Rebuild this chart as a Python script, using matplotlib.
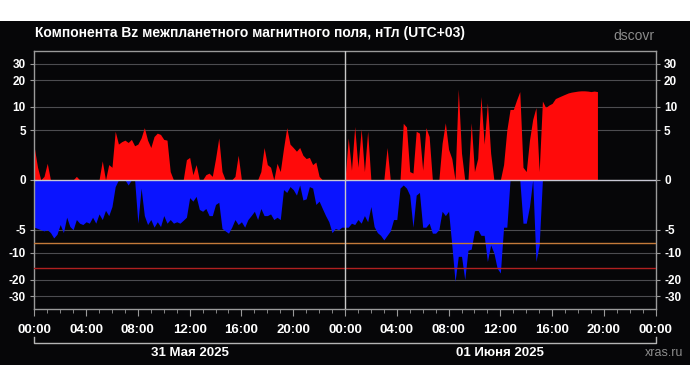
import numpy as np
import matplotlib
matplotlib.use('Agg')
import matplotlib.pyplot as plt
from matplotlib.patches import Rectangle
from matplotlib.transforms import blended_transform_factory

plt.rcParams['font.family'] = ['Liberation Sans', 'DejaVu Sans']

nan = np.nan

# Bz in nT, 15-minute steps from 31 May 00:00 (UTC+03)
# upper (positive) and lower (negative) envelope, one row per hour
bz_pos_day1 = [
    2.6, 0.8, 0, 0.2,   1.1, 0, 0, 0,       0, 0, 0, 0,         0, 0.2, 0, 0,
    0, 0, 0, 0,         0, 1.3, 0, 1.0,     0.8, 4.8, 3.0, 3.3, 3.5, 3.2, 3.6, 2.8,
    3.0, 3.8, 5.4, 3.5, 2.6, 4.0, 4.5, 4.3, 3.6, 3.5, 0.5, 0,   0, 0, 0, 1.4,
    1.6, 0.3, 1.0, 0,   0, 0.3, 0.4, 0.2,   1.5, 3.8, 0.5, 0,   0, 0, 0.2, 1.8,
    0, 0, 0, 0,         0, 0, 0.5, 2.6,     1.0, 0.8, 0, 1.1,   0.5, 2.5, 5.4, 3.0,
    2.6, 2.2, 2.6, 1.8, 1.5, 1.6, 1.0, 1.2, 0.2, 0, 0, 0,       0, 0, 0, 0,
]
bz_neg_day1 = [
    -4.6, -4.8, -5.0, -5.2, -5.0, -5.5, -6.5, -5.8, -4.2, -5.5, -3.2, -4.5,
    -5.0, -3.5, -4.0, -4.2, -3.8, -4.0, -3.2, -4.0, -2.8, -3.5, -2.4, -3.0,
    -2.0, -0.4, 0, 0,       0, -0.3, 0, 0,         -4.0, -0.5, -3.0, -4.2,
    -3.5, -4.6, -3.8, -4.5, -3.0, -4.0, -3.5, -4.0, -3.8, -4.0, -3.6, -3.2,
    -1.2, -1.5, -1.1, -2.3, -2.5, -2.2, -3.0, -3.0, -1.8, -1.6, -4.8, -5.2,
    -5.6, -4.6, -3.5, -4.2, -3.8, -4.6, -3.5, -3.0, -2.5, -3.5, -2.2, -3.0,
    -3.0, -2.8, -3.5, -3.2, -3.5, -0.6, -0.8, -0.4, -0.6, -1.0, -0.3, -1.4,
    -1.3, -0.4, -0.5, -1.8, -1.5, -2.2, -3.0, -3.8, -5.5, -4.8, -5.0, -4.6,
]
bz_pos_day2 = [
    0, 3.8, 0.6, 5.6,       0.8, 5.2, 0.5, 4.8,     0, 0, 0, 0,             0, 2.6, 0, 0,
    0, 0, 6.2, 5.5,         0.5, 0.4, 4.8, 4.5,     0.6, 5.4, 4.0, 0,       0, 0, 3.1, 6.3,
    2.4, 1.5, 0, 16.0,      2.0, 0, 0, 6.3,         0.5, 1.5, 13.2, 3.0,    11.2, 2.0, 0, 0,
    0, 1.0, 5.0, 9.3,       9.3, 12.0, 15.0, 0.8,   0.5, 3.5, 7.0, 9.8,     0.5, 11.7, 9.8, 10.5,
    11.0, 12.5, 13.0, 13.5, 14.0, 14.5, 14.8, 15.0, 15.2, 15.3, 15.3, 15.2, 15.0, 15.2, 15.0, nan,
    nan, nan, nan, nan,     nan, nan, nan, nan,     nan, nan, nan, nan,     nan, nan, nan, nan,
]
bz_neg_day2 = [
    -4.6, -4.6, -4.0, -4.2, -3.5, -4.0, -3.0, -3.8, -2.0, -4.5, -5.5, -6.0,
    -6.9, -6.0, -5.2, -3.5, -3.5, -0.5, -0.3, -0.5, -1.0, -4.6, -1.0, -0.8,
    -4.6, -4.6, -4.0, -5.6, -5.6, -5.0, -2.5, -3.0, -2.5, -8.0, -21.0, -11.0,
    -11.0, -20.0, -9.3, -9.0, -5.2, -5.0, -6.0, -6.0, -12.6, -8.0, -10.0, -15.0,
    -17.0, -4.6, -4.6, 0,   0, 0, 0, -4.0,       -4.0, -2.0, 0, -12.6,
    -8.0, 0, 0, 0,          0, 0, 0, 0,          0, 0, 0, 0,
    0, 0, 0, 0,             0, 0, 0, 0,          nan, nan, nan, nan,
    nan, nan, nan, nan,     nan, nan, nan, nan,  nan, nan, nan, nan,
]

x_ticks = list(range(0, 49, 4))
x_tick_labels = ['00:00', '04:00', '08:00', '12:00', '16:00', '20:00',
                 '00:00', '04:00', '08:00', '12:00', '16:00', '20:00', '00:00']
y_ticks = [-30, -20, -10, -5, 0, 5, 10, 20, 30]
day_labels = ['31 Мая 2025', '01 Июня 2025']
day_centers = [12, 36]
level_warn = -7.5
level_storm = -15

title = 'Компонента Bz межпланетного магнитного поля, нТл (UTC+03)'

W, H = 690, 387
BG = '#060608'


# pseudo-log scale, symmetric around zero
def fwd(v):
    v = np.asarray(v, dtype=float)
    return np.sign(v) * np.log1p(np.abs(v) / 2.5)


def inv(u):
    u = np.asarray(u, dtype=float)
    return np.sign(u) * 2.5 * np.expm1(np.abs(u))


def fy(px):
    return 1 - px / H


fig = plt.figure(figsize=(W / 100, H / 100), dpi=100, facecolor='white')
fig.add_artist(Rectangle((0, fy(365)), 1, (365 - 21) / H, transform=fig.transFigure,
                         facecolor=BG, edgecolor='none', zorder=-1))

ax = fig.add_axes([34.3 / W, fy(309), (655.7 - 34.3) / W, (309 - 50.7) / H])
ax.set_facecolor(BG)
ax.set_yscale('function', functions=(fwd, inv))
ax.set_ylim(-40.6, 40.6)
ax.set_xlim(0, 48)

# data
pos = np.array(bz_pos_day1 + bz_pos_day2, dtype=float)
neg = np.array(bz_neg_day1 + bz_neg_day2, dtype=float)
t = np.arange(len(pos)) * 0.25
ax.fill_between(t, 0, pos, color='#ff0a0a', linewidth=0, zorder=2)
ax.fill_between(t, neg, 0, color='#0a14ff', linewidth=0, zorder=2)

# grid and reference levels
for v in y_ticks:
    if v != 0:
        ax.axhline(v, color='#4c4c50', lw=0.8, zorder=1)
ax.axhline(level_warn, color='#c47a3a', lw=1.0, zorder=3)
ax.axhline(level_storm, color='#b02020', lw=1.0, zorder=3)
ax.axhline(0, color='#c8c8d4', lw=1.0, zorder=4)
ax.axvline(24, color='#c8c8c8', lw=1.0, zorder=4)

for s in ax.spines.values():
    s.set_color('#9a9a9a')
    s.set_linewidth(1.0)

# ticks
ax.set_yticks(y_ticks)
ax.set_yticklabels([str(v) for v in y_ticks])
ax.yaxis.set_minor_locator(matplotlib.ticker.NullLocator())
ax.tick_params(axis='y', which='major', left=True, right=True, labelleft=True,
               labelright=True, length=3, pad=3, color='#9a9a9a',
               labelcolor='white', labelsize=8.5)
ax.set_xticks(x_ticks)
ax.set_xticklabels(x_tick_labels)
ax.set_xticks(range(0, 49), minor=True)
ax.tick_params(axis='x', which='major', length=5, pad=6, color='#9a9a9a',
               labelcolor='white', labelsize=9.5)
ax.tick_params(axis='x', which='minor', length=3, color='#9a9a9a')
for lbl in ax.get_xticklabels() + ax.get_yticklabels():
    lbl.set_fontweight('bold')
for tick in ax.yaxis.get_major_ticks():
    tick.label2.set_fontweight('bold')

# date bracket under the time axis
tr = blended_transform_factory(ax.transData, fig.transFigure)
ax.plot([0, 0, 48, 48], [fy(337), fy(343.3), fy(343.3), fy(337)], color='#b4b4b4',
        lw=1.0, transform=tr, clip_on=False)
for xc, lab in zip(day_centers, day_labels):
    ax.text(xc, fy(353), lab, transform=tr, ha='center', va='center',
            color='white', fontsize=9.5, fontweight='bold')

# texts
fig.text(35 / W, fy(33), title, color='white', fontsize=10, fontweight='bold',
         ha='left', va='center')
fig.text(655 / W, fy(36), 'dscovr', color='#8c8c8c', fontsize=10,
         ha='right', va='center')
fig.text(683 / W, fy(353), 'xras.ru', color='#8c8c8c', fontsize=9,
         ha='right', va='center')

fig.savefig('out.png', dpi=100, facecolor='white')
